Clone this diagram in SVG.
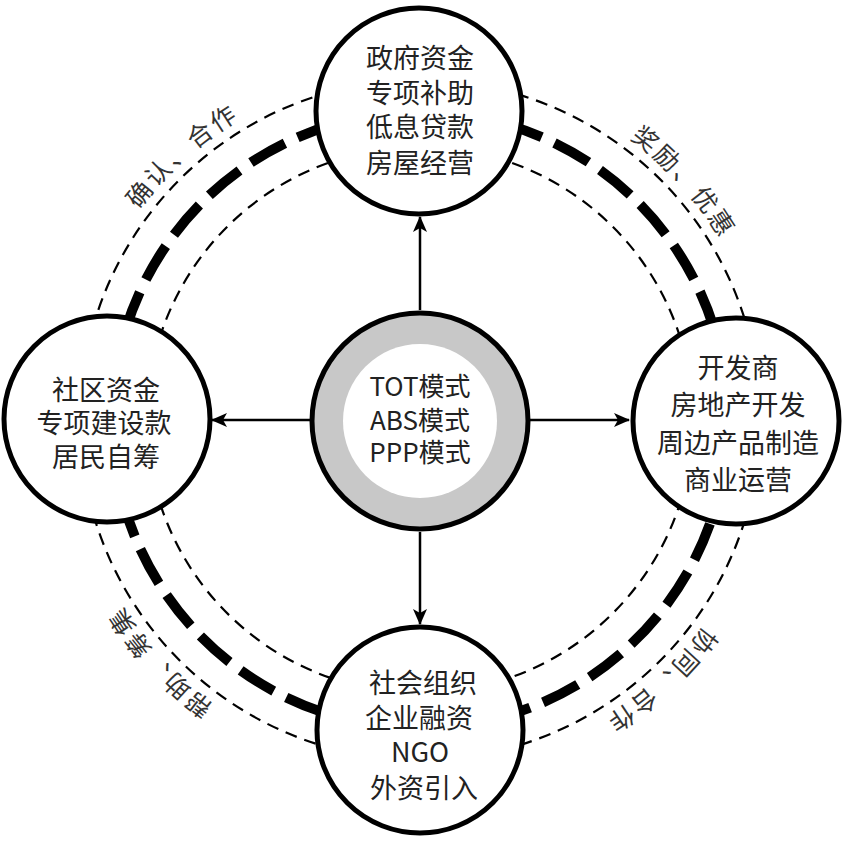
<svg xmlns="http://www.w3.org/2000/svg" width="843" height="844" viewBox="0 0 843 844">
<style>
.ring-thin{fill:none;stroke:#000;stroke-width:2.2;stroke-dasharray:12 8}
.ring-thick{fill:none;stroke:#000;stroke-width:10;stroke-dasharray:39 14}
.node{fill:#fff;stroke:#000;stroke-width:5}
.t{font-family:"Noto Sans CJK SC","Noto Sans",sans-serif;font-size:27px;fill:#222;text-anchor:middle}
.ct{font-family:"Noto Sans CJK SC","Noto Sans",sans-serif;font-size:26px;fill:#222;text-anchor:middle}
.lab{font-family:"Noto Sans CJK SC","Noto Sans",sans-serif;font-size:25px;fill:#333;letter-spacing:2.5px;text-anchor:middle}
.conn{stroke:#000;stroke-width:2.5;fill:none}
</style>
<defs>
<marker id="ah" markerUnits="userSpaceOnUse" markerWidth="16" markerHeight="14" viewBox="0 0 16 14" refX="15" refY="7" orient="auto">
<path d="M0,0 L16,7 L0,14 L4,7 z" fill="#000"/>
</marker>
<path id="lp" d="M69 420 A351 351 0 1 1 771 420 A351 351 0 1 1 69 420"/>
</defs>
<g id="rings">
<circle class="ring-thin" cx="420" cy="420" r="340"/>
<circle class="ring-thick" cx="420" cy="420" r="308"/>
<circle class="ring-thin" cx="420" cy="420" r="273"/>
</g>
<g id="arc-labels">
<text class="lab"><textPath href="#lp" startOffset="294">确认、合作</textPath></text>
<text class="lab"><textPath href="#lp" startOffset="845">奖励、优惠</textPath></text>
<text class="lab"><textPath href="#lp" startOffset="1391">协同、合作</textPath></text>
<text class="lab"><textPath href="#lp" startOffset="1942">帮助、筹集</textPath></text>
</g>
<g id="connectors">
<line class="conn" x1="420" y1="310" x2="420" y2="217" marker-end="url(#ah)"/>
<line class="conn" x1="310" y1="420" x2="212" y2="420" marker-end="url(#ah)"/>
<line class="conn" x1="530" y1="420" x2="629" y2="420" marker-end="url(#ah)"/>
<line class="conn" x1="420" y1="532" x2="420" y2="624" marker-end="url(#ah)"/>
</g>
<g id="node-top">
<circle class="node" cx="419" cy="111" r="103"/>
<text class="t" x="420" y="68">政府资金</text>
<text class="t" x="420" y="103">专项补助</text>
<text class="t" x="420" y="137">低息贷款</text>
<text class="t" x="420" y="173">房屋经营</text>
</g>
<g id="node-left">
<circle class="node" cx="107" cy="419" r="103"/>
<text class="t" x="106" y="400">社区资金</text>
<text class="t" x="104" y="433">专项建设款</text>
<text class="t" x="106" y="467">居民自筹</text>
</g>
<g id="node-right">
<circle class="node" cx="736" cy="421" r="103"/>
<text class="t" x="738" y="378">开发商</text>
<text class="t" x="738" y="415">房地产开发</text>
<text class="t" x="738" y="453">周边产品制造</text>
<text class="t" x="738" y="490">商业运营</text>
</g>
<g id="node-bottom">
<circle class="node" cx="420" cy="730" r="103"/>
<text class="t" x="423" y="693">社会组织</text>
<text class="t" x="419" y="728">企业融资</text>
<text class="t" x="420" y="762">NGO</text>
<text class="t" x="424" y="798">外资引入</text>
</g>
<g id="node-center">
<circle cx="420" cy="421" r="108" fill="#c8c8c8" stroke="#000" stroke-width="5"/>
<circle cx="420" cy="421" r="77" fill="#fff"/>
<text class="ct" x="420" y="396">TOT模式</text>
<text class="ct" x="420" y="430">ABS模式</text>
<text class="ct" x="420" y="462">PPP模式</text>
</g>
</svg>
